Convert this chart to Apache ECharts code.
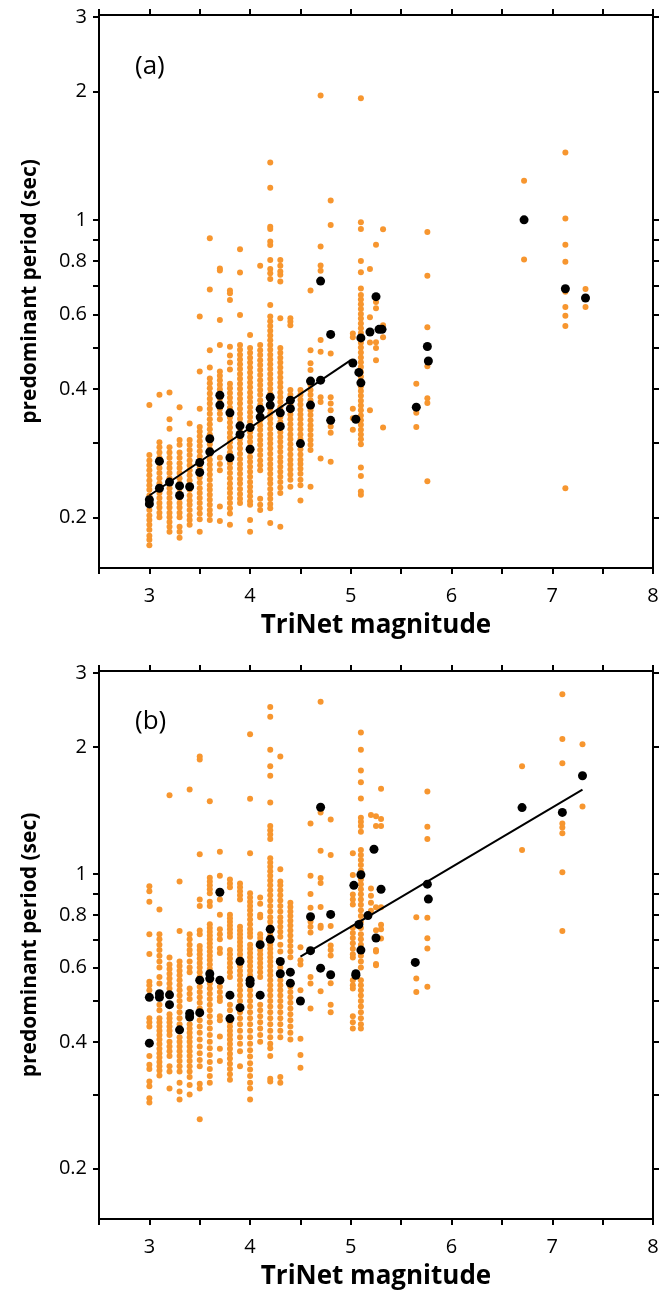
<!DOCTYPE html>
<html>
<head>
<meta charset="utf-8">
<title>predominant period vs TriNet magnitude</title>
<script src="https://cdn.jsdelivr.net/npm/echarts@6/dist/echarts.min.js"></script>
<style>
    html, body { margin: 0; padding: 0; background: #fff; }
    #chart { width: 672px; height: 1291px; }
</style>
</head>
<body>
<div id="chart"></div>
<script>
// axis ranges and ticks (period axis is logarithmic)
var magMin = 2.5;
var magMax = 8;
var periodMin = 0.152;
var periodMax = 3.03;
var periodTicks = [0.2, 0.3, 0.4, 0.5, 0.6, 0.7, 0.8, 0.9, 1, 2, 3];
var periodLabels = [0.2, 0.4, 0.6, 0.8, 1, 2, 3];

// panel (a): single stations, one list of periods per magnitude
var aMags = [3.0, 3.1, 3.2, 3.3, 3.4, 3.5, 3.6, 3.7, 3.8, 3.9, 4.0, 4.1, 4.2, 4.3, 4.4, 4.5, 4.6, 4.7, 4.8,
    5.02, 5.1, 5.19, 5.25, 5.32, 5.65, 5.76, 6.72, 7.13, 7.33];
var aPeriods = [
    [0.367, 0.28, 0.272, 0.265, 0.258, 0.251, 0.244, 0.238, 0.232, 0.225, 0.219, 0.214, 0.208, 0.202, 0.197, 0.192, 0.187, 0.181, 0.177, 0.172],
    [0.388, 0.3, 0.292, 0.284, 0.276, 0.268, 0.261, 0.254, 0.247, 0.24, 0.234, 0.228, 0.222, 0.216, 0.211, 0.205, 0.2],
    [0.393, 0.34, 0.323, 0.292, 0.284, 0.276, 0.268, 0.261, 0.254, 0.247, 0.24, 0.234, 0.228, 0.222, 0.216, 0.211, 0.205, 0.2, 0.195, 0.19, 0.185],
    [0.363, 0.304, 0.296, 0.284, 0.276, 0.268, 0.261, 0.254, 0.247, 0.24, 0.234, 0.228, 0.222, 0.216, 0.211, 0.205, 0.2, 0.19, 0.185, 0.179],
    [0.332, 0.304, 0.296, 0.288, 0.28, 0.272, 0.265, 0.258, 0.251, 0.244, 0.238, 0.232, 0.225, 0.219, 0.214, 0.208, 0.202, 0.197, 0.192],
    [0.593, 0.44, 0.36, 0.326, 0.318, 0.31, 0.302, 0.294, 0.286, 0.278, 0.27, 0.262, 0.255, 0.248, 0.241, 0.234, 0.228, 0.222, 0.216, 0.21, 0.204, 0.198, 0.185],
    [0.905, 0.686, 0.494, 0.45, 0.424, 0.413, 0.402, 0.391, 0.38, 0.37, 0.36, 0.35, 0.34, 0.331, 0.322, 0.313, 0.305, 0.297, 0.289, 0.281, 0.273, 0.266, 0.259, 0.252, 0.245, 0.238, 0.232, 0.226, 0.22, 0.214, 0.208, 0.203, 0.197],
    [0.769, 0.76, 0.582, 0.508, 0.44, 0.43, 0.42, 0.41, 0.4, 0.39, 0.38, 0.37, 0.36, 0.35, 0.34, 0.276, 0.267, 0.258, 0.212, 0.196],
    [0.682, 0.672, 0.648, 0.503, 0.48, 0.462, 0.445, 0.412, 0.402, 0.392, 0.382, 0.372, 0.362, 0.352, 0.343, 0.334, 0.325, 0.316, 0.308, 0.3, 0.292, 0.284, 0.276, 0.268, 0.261, 0.254, 0.247, 0.24, 0.234, 0.228, 0.222, 0.216, 0.21, 0.204, 0.192],
    [0.853, 0.752, 0.598, 0.508, 0.495, 0.482, 0.47, 0.458, 0.446, 0.434, 0.423, 0.412, 0.401, 0.39, 0.38, 0.37, 0.36, 0.35, 0.341, 0.332, 0.323, 0.314, 0.306, 0.298, 0.29, 0.282, 0.274, 0.267, 0.26, 0.253, 0.246, 0.24, 0.233, 0.227, 0.221, 0.216],
    [0.536, 0.5, 0.487, 0.474, 0.462, 0.45, 0.438, 0.426, 0.415, 0.404, 0.393, 0.383, 0.373, 0.363, 0.353, 0.344, 0.335, 0.326, 0.317, 0.309, 0.301, 0.293, 0.285, 0.277, 0.27, 0.263, 0.256, 0.249, 0.242, 0.236, 0.23, 0.224, 0.218, 0.214, 0.197, 0.185],
    [0.78, 0.508, 0.494, 0.481, 0.468, 0.456, 0.444, 0.432, 0.42, 0.409, 0.398, 0.388, 0.377, 0.367, 0.357, 0.348, 0.338, 0.329, 0.321, 0.312, 0.304, 0.296, 0.288, 0.28, 0.272, 0.265, 0.258, 0.221, 0.214, 0.208],
    [1.364, 1.19, 0.964, 0.952, 0.889, 0.873, 0.805, 0.766, 0.749, 0.726, 0.631, 0.593, 0.578, 0.563, 0.549, 0.535, 0.521, 0.508, 0.495, 0.482, 0.47, 0.458, 0.446, 0.434, 0.423, 0.412, 0.401, 0.39, 0.38, 0.37, 0.36, 0.35, 0.341, 0.332, 0.323, 0.314, 0.306, 0.298, 0.29, 0.282, 0.274, 0.267, 0.26, 0.253, 0.246, 0.24, 0.233, 0.227, 0.221, 0.215, 0.21, 0.194],
    [0.805, 0.78, 0.756, 0.743, 0.716, 0.587, 0.5, 0.487, 0.474, 0.462, 0.45, 0.438, 0.426, 0.415, 0.404, 0.393, 0.383, 0.373, 0.363, 0.353, 0.344, 0.335, 0.326, 0.317, 0.309, 0.301, 0.293, 0.285, 0.277, 0.27, 0.263, 0.256, 0.249, 0.242, 0.235, 0.228, 0.19],
    [0.587, 0.577, 0.565, 0.398, 0.388, 0.378, 0.368, 0.358, 0.349, 0.34, 0.331, 0.322, 0.313, 0.305, 0.297, 0.289, 0.281, 0.273, 0.266, 0.259, 0.252, 0.245, 0.236],
    [0.398, 0.388, 0.378, 0.368, 0.358, 0.349, 0.34, 0.331, 0.322, 0.313, 0.305, 0.297, 0.289, 0.281, 0.273, 0.267, 0.26, 0.253, 0.245, 0.238, 0.219],
    [0.682, 0.494, 0.46, 0.444, 0.42, 0.409, 0.398, 0.388, 0.377, 0.367, 0.357, 0.348, 0.338, 0.329, 0.321, 0.312, 0.304, 0.296, 0.288, 0.236],
    [1.96, 0.866, 0.781, 0.759, 0.522, 0.49, 0.383, 0.373, 0.275],
    [1.11, 0.973, 0.485, 0.383, 0.37, 0.357, 0.338, 0.327, 0.316, 0.27],
    [0.541, 0.53, 0.36, 0.342, 0.321],
    [1.93, 0.987, 0.952, 0.8, 0.753, 0.69, 0.666, 0.65, 0.633, 0.617, 0.601, 0.586, 0.571, 0.556, 0.542, 0.528, 0.514, 0.501, 0.488, 0.475, 0.463, 0.451, 0.439, 0.428, 0.417, 0.406, 0.396, 0.386, 0.376, 0.366, 0.357, 0.347, 0.338, 0.33, 0.321, 0.313, 0.305, 0.297, 0.262, 0.25, 0.23, 0.226],
    [0.766, 0.59, 0.515, 0.357],
    [0.874, 0.641, 0.62, 0.516, 0.5, 0.468],
    [0.95, 0.565, 0.53, 0.325],
    [0.412, 0.352, 0.326],
    [0.937, 0.739, 0.559, 0.453, 0.381, 0.371, 0.243],
    [1.235, 0.807],
    [1.44, 1.007, 0.874, 0.797, 0.678, 0.624, 0.595, 0.563, 0.234],
    [0.688, 0.624]
];
// panel (a): event averages (black)
var aMeanMag = [3.0, 3.0, 3.1, 3.1, 3.2, 3.3, 3.3, 3.4, 3.5, 3.5, 3.6, 3.6, 3.7, 3.7, 3.8, 3.8, 3.9, 3.9, 4.0, 4.0,
    4.1, 4.1, 4.2, 4.2, 4.3, 4.3, 4.4, 4.4, 4.5, 4.6, 4.6, 4.7, 4.7, 4.8, 4.8, 5.02, 5.08, 5.1, 5.1, 5.05,
    5.19, 5.25, 5.28, 5.31, 5.65, 5.76, 5.77, 6.72, 7.13, 7.33];
var aMeanPeriod = [0.22, 0.215, 0.271, 0.234, 0.242, 0.237, 0.225, 0.236, 0.269, 0.255, 0.306, 0.285, 0.387, 0.367, 0.352, 0.276, 0.328, 0.313, 0.325, 0.289,
    0.359, 0.344, 0.383, 0.367, 0.352, 0.327, 0.377, 0.36, 0.298, 0.418, 0.367, 0.42, 0.718, 0.538, 0.338, 0.461, 0.438, 0.414, 0.528, 0.34,
    0.545, 0.66, 0.553, 0.553, 0.363, 0.504, 0.466, 1.0, 0.689, 0.655];
var aFitMag = [3.0, 5.0];
var aFitPeriod = [0.225, 0.468];

// panel (b)
var bMags = [3.0, 3.1, 3.2, 3.3, 3.4, 3.5, 3.6, 3.7, 3.8, 3.9, 4.0, 4.1, 4.2, 4.3, 4.4, 4.5, 4.6, 4.7, 4.8,
    5.02, 5.1, 5.2, 5.25, 5.3, 5.65, 5.76, 6.7, 7.1, 7.3];
var bPeriods = [
    [0.935, 0.91, 0.86, 0.72, 0.646, 0.555, 0.545, 0.53, 0.455, 0.445, 0.435, 0.37, 0.353, 0.345, 0.322, 0.314, 0.294, 0.287],
    [0.824, 0.72, 0.7, 0.68, 0.66, 0.64, 0.62, 0.6, 0.57, 0.55, 0.49, 0.475, 0.455, 0.445, 0.435, 0.425, 0.415, 0.405, 0.395, 0.385, 0.376, 0.367, 0.358, 0.35, 0.342, 0.333],
    [1.537, 0.634, 0.61, 0.595, 0.58, 0.565, 0.55, 0.535, 0.465, 0.455, 0.445, 0.435, 0.425, 0.415, 0.4, 0.39, 0.38, 0.37, 0.35, 0.34, 0.31],
    [0.96, 0.733, 0.62, 0.605, 0.59, 0.575, 0.56, 0.545, 0.53, 0.515, 0.5, 0.485, 0.47, 0.455, 0.44, 0.41, 0.4, 0.39, 0.38, 0.37, 0.36, 0.35, 0.34, 0.32, 0.305, 0.292],
    [1.586, 0.72, 0.7, 0.68, 0.66, 0.645, 0.62, 0.6, 0.585, 0.535, 0.52, 0.505, 0.44, 0.43, 0.42, 0.41, 0.4, 0.39, 0.38, 0.37, 0.36, 0.35, 0.34, 0.33, 0.316, 0.3],
    [1.9, 1.87, 1.114, 0.87, 0.84, 0.735, 0.72, 0.675, 0.66, 0.645, 0.63, 0.615, 0.6, 0.585, 0.57, 0.555, 0.54, 0.525, 0.51, 0.495, 0.48, 0.465, 0.45, 0.435, 0.42, 0.405, 0.39, 0.376, 0.362, 0.35, 0.318, 0.31, 0.262],
    [1.487, 0.98, 0.96, 0.94, 0.92, 0.9, 0.86, 0.84, 0.76, 0.745, 0.73, 0.715, 0.7, 0.685, 0.67, 0.655, 0.64, 0.625, 0.61, 0.595, 0.55, 0.535, 0.52, 0.505, 0.49, 0.475, 0.46, 0.445, 0.43, 0.415, 0.4, 0.386, 0.372, 0.358, 0.345, 0.332, 0.32],
    [1.13, 0.99, 0.87, 0.8, 0.74, 0.72, 0.7, 0.665, 0.65, 0.54, 0.525, 0.51, 0.5, 0.46, 0.45, 0.412, 0.385, 0.36],
    [0.97, 0.95, 0.93, 0.8, 0.785, 0.77, 0.755, 0.74, 0.725, 0.71, 0.66, 0.645, 0.63, 0.615, 0.6, 0.585, 0.57, 0.49, 0.475, 0.445, 0.435, 0.425, 0.415, 0.405, 0.395, 0.385, 0.375, 0.365, 0.355, 0.345, 0.335, 0.325],
    [0.95, 0.93, 0.91, 0.89, 0.87, 0.75, 0.735, 0.72, 0.705, 0.69, 0.675, 0.66, 0.645, 0.63, 0.605, 0.59, 0.575, 0.56, 0.545, 0.53, 0.515, 0.5, 0.47, 0.455, 0.44, 0.425, 0.41, 0.396, 0.38, 0.35],
    [2.145, 1.509, 1.12, 0.9, 0.88, 0.86, 0.84, 0.82, 0.8, 0.78, 0.76, 0.74, 0.725, 0.71, 0.68, 0.665, 0.65, 0.635, 0.62, 0.605, 0.59, 0.575, 0.545, 0.53, 0.515, 0.5, 0.485, 0.47, 0.455, 0.44, 0.425, 0.41, 0.396, 0.382, 0.369, 0.356, 0.344, 0.332, 0.32, 0.31, 0.292],
    [0.88, 0.85, 0.8, 0.79, 0.72, 0.705, 0.69, 0.66, 0.645, 0.63, 0.615, 0.6, 0.585, 0.57, 0.49, 0.475, 0.46, 0.445, 0.43, 0.415, 0.4],
    [2.49, 2.36, 1.97, 1.8, 1.71, 1.477, 1.3, 1.27, 1.24, 1.21, 1.09, 1.065, 1.04, 1.015, 0.99, 0.965, 0.94, 0.915, 0.89, 0.865, 0.84, 0.815, 0.79, 0.77, 0.75, 0.73, 0.715, 0.695, 0.68, 0.665, 0.65, 0.635, 0.62, 0.605, 0.59, 0.575, 0.56, 0.545, 0.53, 0.515, 0.5, 0.485, 0.47, 0.455, 0.44, 0.425, 0.41, 0.396, 0.386, 0.37, 0.327, 0.322],
    [1.9, 1.027, 0.96, 0.94, 0.915, 0.89, 0.865, 0.84, 0.815, 0.79, 0.77, 0.75, 0.73, 0.71, 0.68, 0.655, 0.6, 0.56, 0.545, 0.53, 0.515, 0.5, 0.485, 0.47, 0.455, 0.44, 0.425, 0.41, 0.33, 0.32],
    [0.855, 0.835, 0.815, 0.795, 0.775, 0.755, 0.735, 0.715, 0.695, 0.675, 0.655, 0.635, 0.54, 0.525, 0.51, 0.495, 0.48, 0.465, 0.45, 0.435, 0.42, 0.405],
    [0.67, 0.624, 0.61, 0.53, 0.407, 0.372, 0.347],
    [1.318, 0.99, 0.897, 0.832, 0.77, 0.75, 0.727, 0.57, 0.55, 0.48],
    [2.56, 1.4, 1.135, 0.978, 0.952, 0.835, 0.754, 0.746, 0.527],
    [1.347, 1.11, 0.753, 0.677, 0.66, 0.641, 0.551, 0.49, 0.47],
    [1.12, 0.995, 0.894, 0.87, 0.847, 0.746, 0.725, 0.705, 0.685, 0.665, 0.645, 0.634, 0.56, 0.545, 0.535, 0.46, 0.445, 0.43],
    [2.165, 1.97, 1.76, 1.65, 1.51, 1.36, 1.33, 1.3, 1.26, 1.14, 1.11, 1.08, 1.05, 1.02, 0.97, 0.945, 0.92, 0.895, 0.87, 0.845, 0.82, 0.795, 0.77, 0.745, 0.72, 0.7, 0.68, 0.64, 0.62, 0.6, 0.56, 0.545, 0.53, 0.515, 0.5, 0.485, 0.47, 0.455, 0.44, 0.43],
    [1.38, 0.924, 0.888, 0.855, 0.818],
    [1.37, 1.3, 0.834, 0.736, 0.66, 0.655, 0.612, 0.608],
    [1.594, 1.35, 1.3, 0.834, 0.758, 0.74, 0.703],
    [0.79, 0.565, 0.525],
    [1.57, 1.295, 1.21, 0.788, 0.704, 0.666, 0.54],
    [1.8, 1.14],
    [2.67, 2.09, 1.83, 1.318, 1.29, 1.25, 1.01, 0.733],
    [2.03, 1.445]
];
var bMeanMag = [3.0, 3.0, 3.1, 3.1, 3.2, 3.2, 3.3, 3.4, 3.4, 3.5, 3.5, 3.6, 3.6, 3.7, 3.7, 3.8, 3.8, 3.9, 3.9, 4.0,
    4.0, 4.1, 4.1, 4.2, 4.2, 4.3, 4.3, 4.4, 4.4, 4.5, 4.6, 4.6, 4.7, 4.7, 4.8, 4.8, 5.03, 5.05, 5.05, 5.1,
    5.08, 5.1, 5.17, 5.23, 5.3, 5.25, 5.64, 5.76, 5.77, 6.7, 7.1, 7.3];
var bMeanPeriod = [0.51, 0.397, 0.52, 0.51, 0.517, 0.49, 0.427, 0.467, 0.458, 0.56, 0.469, 0.58, 0.565, 0.905, 0.56, 0.516, 0.454, 0.621, 0.482, 0.56,
    0.55, 0.68, 0.516, 0.74, 0.70, 0.62, 0.58, 0.585, 0.551, 0.50, 0.792, 0.658, 1.44, 0.598, 0.802, 0.577, 0.94, 0.58, 0.575, 0.996,
    0.759, 0.66, 0.797, 1.145, 0.92, 0.705, 0.617, 0.946, 0.872, 1.437, 1.40, 1.71];
var bFitMag = [4.5, 7.3];
var bFitPeriod = [0.637, 1.585];

var orange = '#f7962f';
var font = 'Open Sans';

var chart = echarts.init(document.getElementById('chart'), null, {renderer: 'canvas'});

function columnPoints(mags, periods) {
    var out = [];
    for (var i = 0; i < mags.length; i++) {
        for (var j = 0; j < periods[i].length; j++) {
            out.push([mags[i], Math.log10(periods[i][j])]);
        }
    }
    return out;
}

function pairPoints(mags, periods) {
    var out = [];
    for (var i = 0; i < mags.length; i++) {
        out.push([mags[i], Math.log10(periods[i])]);
    }
    return out;
}

function periodLabel(v) {
    var p = Math.pow(10, v);
    return p >= 1 ? String(Math.round(p)) : p.toFixed(1);
}

var lineStyle = {color: '#000', width: 2};

function magAxis(grid, pos, showLabels) {
    return {
        type: 'value',
        gridIndex: grid,
        position: pos,
        min: magMin,
        max: magMax,
        interval: 0.5,
        name: showLabels ? 'TriNet magnitude' : '',
        nameLocation: 'middle',
        nameGap: 45,
        nameTextStyle: {fontFamily: font, fontWeight: 'bold', fontSize: 26, color: '#000'},
        axisLine: {show: true, onZero: false, lineStyle: lineStyle},
        axisTick: {show: true, inside: false, length: 6, lineStyle: lineStyle},
        axisLabel: {
            show: showLabels,
            margin: 18,
            fontFamily: font,
            fontSize: 20,
            color: '#000',
            formatter: function (v) { return v % 1 === 0 ? String(v) : ''; }
        },
        splitLine: {show: false}
    };
}

function periodAxis(grid, pos, showLabels) {
    return {
        type: 'value',
        gridIndex: grid,
        position: pos,
        min: Math.log10(periodMin),
        max: Math.log10(periodMax),
        name: showLabels ? 'predominant period (sec)' : '',
        nameLocation: 'middle',
        nameRotate: 90,
        nameGap: 58,
        nameTextStyle: {fontFamily: font, fontWeight: 'bold', fontSize: 21, color: '#000'},
        axisLine: {show: true, onZero: false, lineStyle: lineStyle},
        axisTick: {show: true, inside: false, length: 6, lineStyle: lineStyle, customValues: periodTicks.map(Math.log10)},
        axisLabel: {
            show: showLabels,
            margin: 12,
            fontFamily: font,
            fontSize: 20,
            color: '#000',
            customValues: periodLabels.map(Math.log10),
            formatter: periodLabel
        },
        splitLine: {show: false}
    };
}

function panelSeries(axisIndex, mags, periods, meanMag, meanPeriod, fitMag, fitPeriod) {
    return [{
        type: 'scatter',
        xAxisIndex: axisIndex,
        yAxisIndex: axisIndex,
        symbolSize: 6,
        itemStyle: {color: orange, opacity: 1},
        data: columnPoints(mags, periods),
        z: 2
    }, {
        type: 'line',
        xAxisIndex: axisIndex,
        yAxisIndex: axisIndex,
        symbol: 'none',
        lineStyle: {color: '#000', width: 2},
        data: pairPoints(fitMag, fitPeriod),
        z: 3
    }, {
        type: 'scatter',
        xAxisIndex: axisIndex,
        yAxisIndex: axisIndex,
        symbolSize: 9,
        itemStyle: {color: '#000', opacity: 1},
        data: pairPoints(meanMag, meanPeriod),
        z: 4
    }];
}

var option = {
    animation: false,
    backgroundColor: '#fff',
    grid: [
        {left: 99, top: 15, width: 554, height: 553},
        {left: 99, top: 671, width: 554, height: 553}
    ],
    xAxis: [
        magAxis(0, 'bottom', true),
        magAxis(1, 'bottom', true),
        magAxis(0, 'top', false),
        magAxis(1, 'top', false)
    ],
    yAxis: [
        periodAxis(0, 'left', true),
        periodAxis(1, 'left', true),
        periodAxis(0, 'right', false),
        periodAxis(1, 'right', false)
    ],
    graphic: [
        {type: 'text', left: 135, top: 54, style: {text: '(a)', fontFamily: font, fontSize: 26, fill: '#000'}},
        {type: 'text', left: 135, top: 709, style: {text: '(b)', fontFamily: font, fontSize: 26, fill: '#000'}}
    ],
    series: [].concat(
        panelSeries(0, aMags, aPeriods, aMeanMag, aMeanPeriod, aFitMag, aFitPeriod),
        panelSeries(1, bMags, bPeriods, bMeanMag, bMeanPeriod, bFitMag, bFitPeriod)
    )
};

chart.setOption(option);
</script>
</body>
</html>
